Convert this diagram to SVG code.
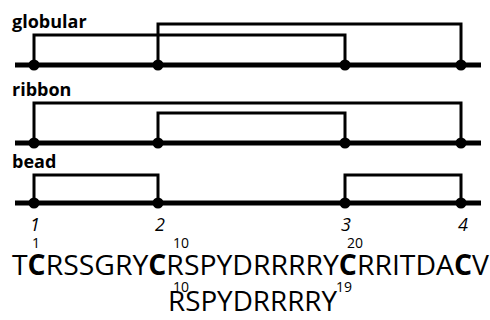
<svg xmlns="http://www.w3.org/2000/svg" width="490" height="320" viewBox="0 0 490 320">
<style>
.bb{stroke:#000;stroke-width:5;fill:none}
.br{stroke:#000;stroke-width:3;fill:none}
.lbl{font-family:"Open Sans","Liberation Sans",sans-serif;font-weight:bold;font-size:18px;fill:#000}
.num{font-family:"Open Sans","Liberation Sans",sans-serif;font-style:italic;font-size:18px;fill:#000}
.seq{font-family:"Open Sans","Liberation Sans",sans-serif;font-size:28px;fill:#000}
.sup{font-family:"Open Sans","Liberation Sans",sans-serif;font-size:14px;fill:#000}
.b{font-weight:bold}
</style>
<rect width="490" height="320" fill="#fff"/>
<g id="globular">
<text class="lbl" x="12" y="28">globular</text>
<line class="bb" x1="15" y1="65" x2="481" y2="65"/>
</g>
<g id="ribbon">
<text class="lbl" x="12" y="96">ribbon</text>
<line class="bb" x1="15" y1="143" x2="481" y2="143"/>
</g>
<g id="bead">
<text class="lbl" x="12" y="168">bead</text>
<line class="bb" x1="15" y1="203" x2="481" y2="203"/>
</g>
<g id="connectors">
<path class="br" d="M34,65V35H345V65"/>
<path class="br" d="M158,65V24H461V65"/>
<path class="br" d="M34,143V103H461V143"/>
<path class="br" d="M158,143V113H345V143"/>
<path class="br" d="M34,203V175H158V203"/>
<path class="br" d="M345,203V175H461V203"/>
</g>
<g id="dots" fill="#000">
<circle cx="34" cy="65" r="5.5"/><circle cx="158" cy="65" r="5.5"/><circle cx="345" cy="65" r="5.5"/><circle cx="461" cy="65" r="5.5"/>
<circle cx="34" cy="143" r="5.5"/><circle cx="158" cy="143" r="5.5"/><circle cx="345" cy="143" r="5.5"/><circle cx="461" cy="143" r="5.5"/>
<circle cx="34" cy="203" r="5.5"/><circle cx="158" cy="203" r="5.5"/><circle cx="345" cy="203" r="5.5"/><circle cx="461" cy="203" r="5.5"/>
</g>
<g id="numbers">
<text class="num" x="35" y="231" text-anchor="middle">1</text>
<text class="num" x="160" y="231" text-anchor="middle">2</text>
<text class="num" x="346" y="231" text-anchor="middle">3</text>
<text class="num" x="463" y="231" text-anchor="middle">4</text>
</g>
<g id="sequence">
<text class="seq" x="12" y="275" textLength="477" lengthAdjust="spacingAndGlyphs">T<tspan class="b">C</tspan>RSSGRY<tspan class="b">C</tspan>RSPYDRRRRY<tspan class="b">C</tspan>RRITDA<tspan class="b">C</tspan>V</text>
<text class="sup" x="32" y="248">1</text>
<text class="sup" x="173" y="248">10</text>
<text class="sup" x="347" y="248">20</text>
<text class="seq" x="168" y="311" textLength="169" lengthAdjust="spacingAndGlyphs">RSPYDRRRRY</text>
<text class="sup" x="173" y="292">10</text>
<text class="sup" x="336" y="292">19</text>
</g>
</svg>
